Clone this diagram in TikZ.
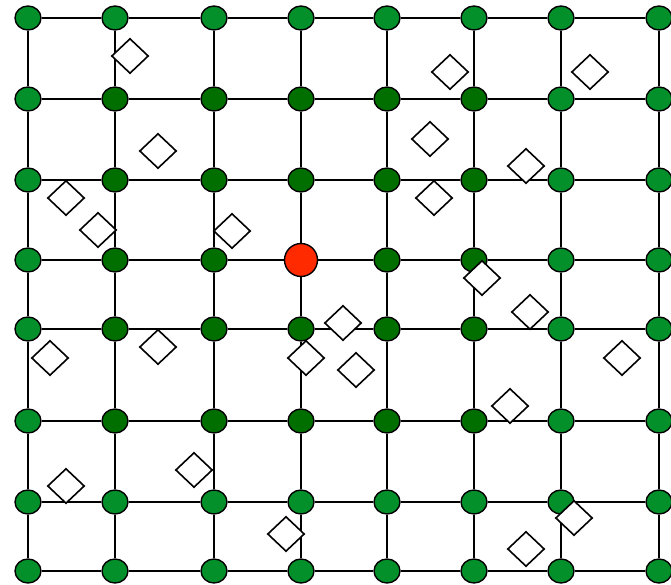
\documentclass[tikz,border=0pt]{standalone}
\usetikzlibrary{shapes.geometric}
\definecolor{sitegreen}{HTML}{03902A}
\definecolor{innergreen}{HTML}{006F00}
\definecolor{sourcered}{HTML}{FF2A00}

\begin{document}
\begin{tikzpicture}[
  x=1pt, y=-1pt,
  site/.style={ellipse, draw=black, line width=1.4pt, fill=sitegreen, minimum width=26pt, minimum height=24pt, inner sep=0pt},
  inner site/.style={site, fill=innergreen},
  source/.style={circle, draw=black, line width=1.4pt, fill=sourcered, minimum size=33pt, inner sep=0pt},
  token/.style={diamond, draw=black, line width=1.6pt, fill=white, minimum width=37pt, minimum height=35pt, inner sep=0pt},
  link/.style={draw=black, line width=2.8pt}
]
\useasboundingbox (0,0) rectangle (671,585);

% lattice sites
\foreach \x [count=\i] in {28,115,214,301,387,474,561,659} {
  \foreach \y [count=\j] in {18,99,180,260,329,421,502,571} {
    \pgfmathtruncatemacro\isinner{(\i>1)&&(\i<7)&&(\j>1)&&(\j<7)}
    \pgfmathtruncatemacro\iscentre{(\i==4)&&(\j==4)}
    \ifnum\iscentre=1
      \node[source] (s\i-\j) at (\x,\y) {};
    \else\ifnum\isinner=1
      \node[inner site] (s\i-\j) at (\x,\y) {};
    \else
      \node[site] (s\i-\j) at (\x,\y) {};
    \fi\fi
  }
}

% links
\foreach \j in {1,...,8} {
  \foreach \i in {1,...,7} {
    \pgfmathtruncatemacro\k{\i+1}
    \draw[link] (s\i-\j) -- (s\k-\j);
    \draw[link] (s\j-\i) -- (s\j-\k);
  }
}

% tokens
\foreach \x/\y [count=\n] in {130/56,450/72,590/72,158/151,430/139,526/166,
    66/198,98/230,232/231,434/198,482/278,343/323,530/312,50/358,
    158/347,306/358,356/370,622/358,510/406,194/470,66/486,286/534,
    574/518,526/549} {
  \node[token] (t\n) at (\x,\y) {};
}
\end{tikzpicture}
\end{document}
